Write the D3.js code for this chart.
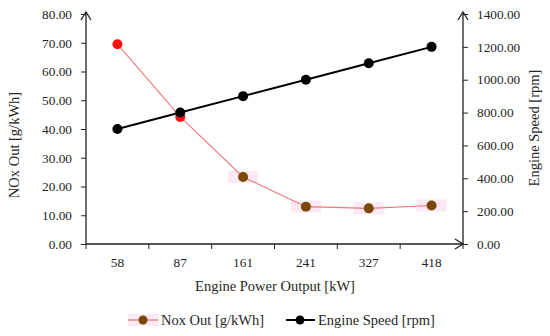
<!DOCTYPE html>
<html>
<head>
<meta charset="utf-8">
<script src="https://cdn.jsdelivr.net/npm/d3@7"></script>
<style>
  body { margin: 0; background: #fff; }
  text { font-family: "Liberation Serif", "DejaVu Serif", serif; fill: #262626; }
</style>
</head>
<body>
<div id="chart"></div>
<script>
// data
var powerLabels = ['58', '87', '161', '241', '327', '418'];
var noxOut = [69.5, 44.2, 23.3, 13.0, 12.4, 13.4];
var engineSpeed = [700, 800, 900, 1000, 1100, 1200];
var noxTicks = [0, 10, 20, 30, 40, 50, 60, 70, 80];
var speedTicks = [0, 200, 400, 600, 800, 1000, 1200, 1400];
// which nox markers are drawn red (the rest brown)
var noxRed = [true, true, false, false, false, false];

const W = 550, H = 336;
const plotLeft = 86, plotRight = 463, plotTop = 14, plotBottom = 244;

var svg = d3.select('#chart').append('svg')
            .attr('width', W)
            .attr('height', H);

var x = d3.scaleBand().domain(powerLabels).range([plotLeft, plotRight]);
var yL = d3.scaleLinear().domain([0, 80]).range([plotBottom, plotTop]);
var yR = d3.scaleLinear().domain([0, 1400]).range([plotBottom, plotTop]);

function cx(d, i) { return x(powerLabels[i]) + x.bandwidth() / 2; }

// left axis
var axL = svg.append('g')
             .attr('transform', 'translate(' + plotLeft + ',0)')
             .call(d3.axisLeft(yL).tickValues(noxTicks).tickFormat(d3.format('.2f')).tickSize(5).tickPadding(9));
// right axis
var axR = svg.append('g')
             .attr('transform', 'translate(' + plotRight + ',0)')
             .call(d3.axisRight(yR).tickValues(speedTicks).tickFormat(d3.format('.2f')).tickSize(5).tickPadding(9));
// bottom axis, ticks drawn between categories below
var axB = svg.append('g')
             .attr('transform', 'translate(0,' + plotBottom + ')')
             .call(d3.axisBottom(x).tickSize(0).tickPadding(14));

[axL, axR, axB].forEach(function (a) {
  a.select('.domain').remove();
  a.selectAll('line').attr('stroke', '#222');
  a.selectAll('text').style('font-size', '13.3px').attr('fill', '#262626');
});

var edges = powerLabels.map(p => x(p)).concat([plotRight]);
svg.append('g').selectAll('line').data(edges).enter().append('line')
   .attr('x1', d => d).attr('x2', d => d)
   .attr('y1', plotBottom).attr('y2', plotBottom + 5)
   .attr('stroke', '#222');

// axis lines with open arrows
var axisPen = svg.append('g').attr('stroke', '#222').attr('fill', 'none').attr('stroke-width', 1.3);
axisPen.append('line').attr('x1', plotLeft).attr('x2', plotLeft).attr('y1', plotBottom).attr('y2', plotTop - 2);
axisPen.append('line').attr('x1', plotRight).attr('x2', plotRight).attr('y1', plotBottom).attr('y2', plotTop - 2);
axisPen.append('line').attr('x1', plotLeft).attr('x2', plotRight).attr('y1', plotBottom).attr('y2', plotBottom);
axisPen.append('path').attr('d', 'M' + (plotLeft - 5) + ',' + (plotTop + 6) + 'L' + plotLeft + ',' + (plotTop - 2) + 'L' + (plotLeft + 5) + ',' + (plotTop + 6));
axisPen.append('path').attr('d', 'M' + (plotRight - 5) + ',' + (plotTop + 6) + 'L' + plotRight + ',' + (plotTop - 2) + 'L' + (plotRight + 5) + ',' + (plotTop + 6));
axisPen.append('path').attr('d', 'M' + (plotRight - 8) + ',' + (plotBottom - 5) + 'L' + plotRight + ',' + plotBottom + 'L' + (plotRight - 8) + ',' + (plotBottom + 5));

// pink highlight behind the brown markers
var noxPts = noxOut.map((v, i) => ({ v: v, i: i }));
svg.append('g').selectAll('rect').data(noxPts.filter(p => !noxRed[p.i])).enter()
   .append('rect')
   .attr('x', p => cx(p.v, p.i) - 15)
   .attr('y', p => yL(p.v) - 6)
   .attr('width', 30).attr('height', 12)
   .attr('fill', '#fde8f6');

// nox line
svg.append('path')
   .datum(noxOut)
   .attr('fill', 'none')
   .attr('stroke', '#f07878')
   .attr('stroke-width', 1.1)
   .attr('d', d3.line().x(cx).y(d => yL(d)));

svg.append('g').selectAll('circle').data(noxOut).enter().append('circle')
   .attr('cx', cx).attr('cy', d => yL(d)).attr('r', 5)
   .attr('fill', (d, i) => noxRed[i] ? '#ff1010' : '#7a4a05');

// engine speed line
svg.append('path')
   .datum(engineSpeed)
   .attr('fill', 'none')
   .attr('stroke', '#000')
   .attr('stroke-width', 2)
   .attr('d', d3.line().x(cx).y(d => yR(d)));

svg.append('g').selectAll('circle').data(engineSpeed).enter().append('circle')
   .attr('cx', cx).attr('cy', d => yR(d)).attr('r', 5)
   .attr('fill', '#000');

// axis titles
svg.append('text').attr('x', 275).attr('y', 291)
   .attr('text-anchor', 'middle').style('font-size', '14.5px')
   .text('Engine Power Output [kW]');
svg.append('text').attr('transform', 'translate(19,145) rotate(-90)')
   .attr('text-anchor', 'middle').style('font-size', '14.5px')
   .text('NOx Out [g/kWh]');
svg.append('text').attr('transform', 'translate(539,128) rotate(-90)')
   .attr('text-anchor', 'middle').style('font-size', '14.5px')
   .text('Engine Speed [rpm]');

// legend
var lg = svg.append('g').attr('transform', 'translate(0,320)');
lg.append('rect').attr('x', 128).attr('y', -6).attr('width', 31).attr('height', 12).attr('fill', '#fde8f6');
lg.append('line').attr('x1', 128).attr('x2', 158).attr('stroke', '#e07050').attr('stroke-width', 1.1);
lg.append('circle').attr('cx', 143).attr('r', 4.5).attr('fill', '#7a4a05');
lg.append('text').attr('x', 161).attr('y', 5).style('font-size', '14.5px').text('Nox Out [g/kWh]');
lg.append('line').attr('x1', 286).attr('x2', 315).attr('stroke', '#000').attr('stroke-width', 2);
lg.append('circle').attr('cx', 300).attr('r', 4.5).attr('fill', '#000');
lg.append('text').attr('x', 318).attr('y', 5).style('font-size', '14.5px').text('Engine Speed [rpm]');
</script>
</body>
</html>
